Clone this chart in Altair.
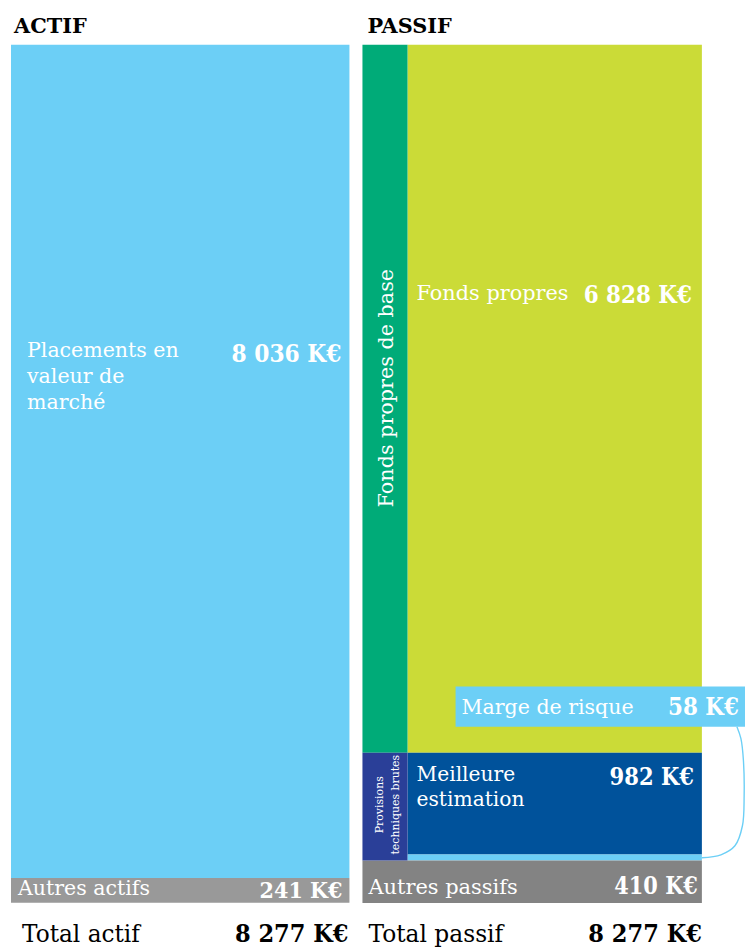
import altair as alt
import pandas as pd

# ---------------- data ----------------
actif_labels = ["Placements en valeur de marché", "Autres actifs"]
actif_values = [8036, 241]
passif_labels = ["Fonds propres", "Meilleure estimation", "Marge de risque", "Autres passifs"]
passif_values = [6828, 982, 58, 410]
group_labels = ["Fonds propres de base", "Provisions techniques brutes"]
group_values = [6828, 1040]
total_actif = 8277
total_passif = 8277


def keur(v):
    return f"{v:,}".replace(",", " ") + " K€"


# ---------------- layout (screen pixels) ----------------
W, H = 745, 955
S, OX, OY = 0.988, 8.0, 13.4          # screen = O + S * plot


def px(v):
    return (v - OX) / S


def py(v):
    return (v - OY) / S


def fs(v):
    return v / S


BAR_TOP, BAR_BOTTOM = 45, 902
COL_ACTIF = (11, 349)
COL_STRIP = (362, 407)
COL_MAIN = (407, 701)
COL_FULL = (362, 701)
SERIF = "DejaVu Serif"
COND = "DejaVu Serif Condensed"
LIGHT_BLUE = "#6ccff6"

actif_colors = [LIGHT_BLUE, "#999999"]
passif_colors = ["#cbdb37", "#00529b", LIGHT_BLUE, "#838383"]
passif_cols = [COL_MAIN, COL_MAIN, COL_MAIN, COL_FULL]
group_colors = ["#00ab78", "#2a3f98"]

rows = []


def add_stack(labels, values, colors, cols):
    cum = 0
    for lab, v, c, col in zip(labels, values, colors, cols):
        rows.append(dict(label=lab, y0=cum, y1=cum + v,
                         x0=px(col[0]), x1=px(col[1]), color=c))
        cum += v


add_stack(actif_labels, actif_values, actif_colors, [COL_ACTIF] * 2)
add_stack(passif_labels, passif_values, passif_colors, passif_cols)
add_stack(group_labels, group_values, group_colors, [COL_STRIP] * 2)
rects_df = pd.DataFrame(rows)

xs = alt.Scale(domain=[0, W], range=[0, W])
ys = alt.Scale(domain=[0, total_actif], range=[py(BAR_TOP), py(BAR_BOTTOM)])

rects = alt.Chart(rects_df).mark_rect().encode(
    x=alt.X("x0:Q", scale=xs, axis=None),
    x2="x1:Q",
    y=alt.Y("y0:Q", scale=ys, axis=None),
    y2="y1:Q",
    color=alt.Color("color:N", scale=None),
)

one = pd.DataFrame({"a": [0]})
marge_box = alt.Chart(one).mark_rect(color=LIGHT_BLUE).encode(
    x=alt.value(px(455)), x2=alt.value(min(px(749), W)),
    y=alt.value(py(686)), y2=alt.value(py(726))
)

# decorative bracket joining the callout to the thin strip (screen coords)
curve_x = [736, 740, 742.5, 743.2, 741.5, 734, 720, 701]
curve_y = [726, 738, 760, 795, 825, 845, 854, 857]
curve_df = pd.DataFrame({
    "i": list(range(len(curve_x))),
    "cx": [px(v) for v in curve_x],
    "cy": [py(v) for v in curve_y],
})
curve = alt.Chart(curve_df).mark_line(
    color=LIGHT_BLUE, strokeWidth=1.4, interpolate="catmull-rom"
).encode(
    x=alt.X("cx:Q", scale=xs, axis=None),
    y=alt.Y("cy:Q", scale=alt.Scale(domain=[0, H], range=[0, H]), axis=None),
    order="i:Q",
)


def txt(text, x, y, size=20, bold=False, color="white", align="left",
        baseline="alphabetic", angle=0, line_height=None, font=SERIF):
    kw = dict(font=font, fontSize=fs(size), color=color, align=align,
              baseline=baseline, lineBreak="\n",
              fontWeight="bold" if bold else "normal")
    if angle:
        kw["angle"] = angle
    if line_height:
        kw["lineHeight"] = fs(line_height)
    df = pd.DataFrame({"t": [text]})
    return alt.Chart(df).mark_text(**kw).encode(
        x=alt.value(px(x)), y=alt.value(py(y)), text="t:N"
    )


texts = [
    txt("ACTIF", 14, 33, size=20.8, bold=True, color="black"),
    txt("PASSIF", 367, 33, size=20.8, bold=True, color="black"),
    txt("Placements en\nvaleur de\nmarché", 27, 357, size=20.5, line_height=26),
    txt(keur(actif_values[0]), 341, 362, size=24.2, bold=True, align="right", font=COND),
    txt(passif_labels[0], 416, 300, size=20.8),
    txt(keur(passif_values[0]), 691, 303, size=23.8, bold=True, align="right", font=COND),
    txt(group_labels[0], 393, 388, size=20.7, align="center", angle=270),
    txt("Provisions\ntechniques brutes", 383, 804, size=10.9, align="center",
        angle=270, line_height=16),
    txt("Meilleure\nestimation", 416, 780, size=20.2, line_height=25),
    txt(keur(passif_values[1]), 693, 784, size=23.4, bold=True, align="right", font=COND),
    txt(passif_labels[2], 461, 713, size=20.5),
    txt(keur(passif_values[2]), 738, 714, size=23.8, bold=True, align="right", font=COND),
    txt(actif_labels[1], 18, 894, size=20.5),
    txt(keur(actif_values[1]), 342, 897, size=23, bold=True, align="right", font=COND),
    txt(passif_labels[3], 368, 893, size=20.9),
    txt(keur(passif_values[3]), 697, 893, size=23.2, bold=True, align="right", font=COND),
    txt("Total actif", 22, 941.5, size=23.2, color="black"),
    txt(keur(total_actif), 348, 941.5, size=25, bold=True, color="black", align="right", font=COND),
    txt("Total passif", 368, 941, size=23.3, color="black"),
    txt(keur(total_passif), 701, 941.5, size=25, bold=True, color="black", align="right", font=COND),
]

chart = alt.layer(rects, marge_box, curve, *texts).resolve_scale(
    y="independent"
).properties(
    width=W, height=H, padding=0, autosize=alt.AutoSizeParams(type="none")
).configure_view(stroke=None)

chart.save("out.html", embed_options={"renderer": "svg", "actions": False})
